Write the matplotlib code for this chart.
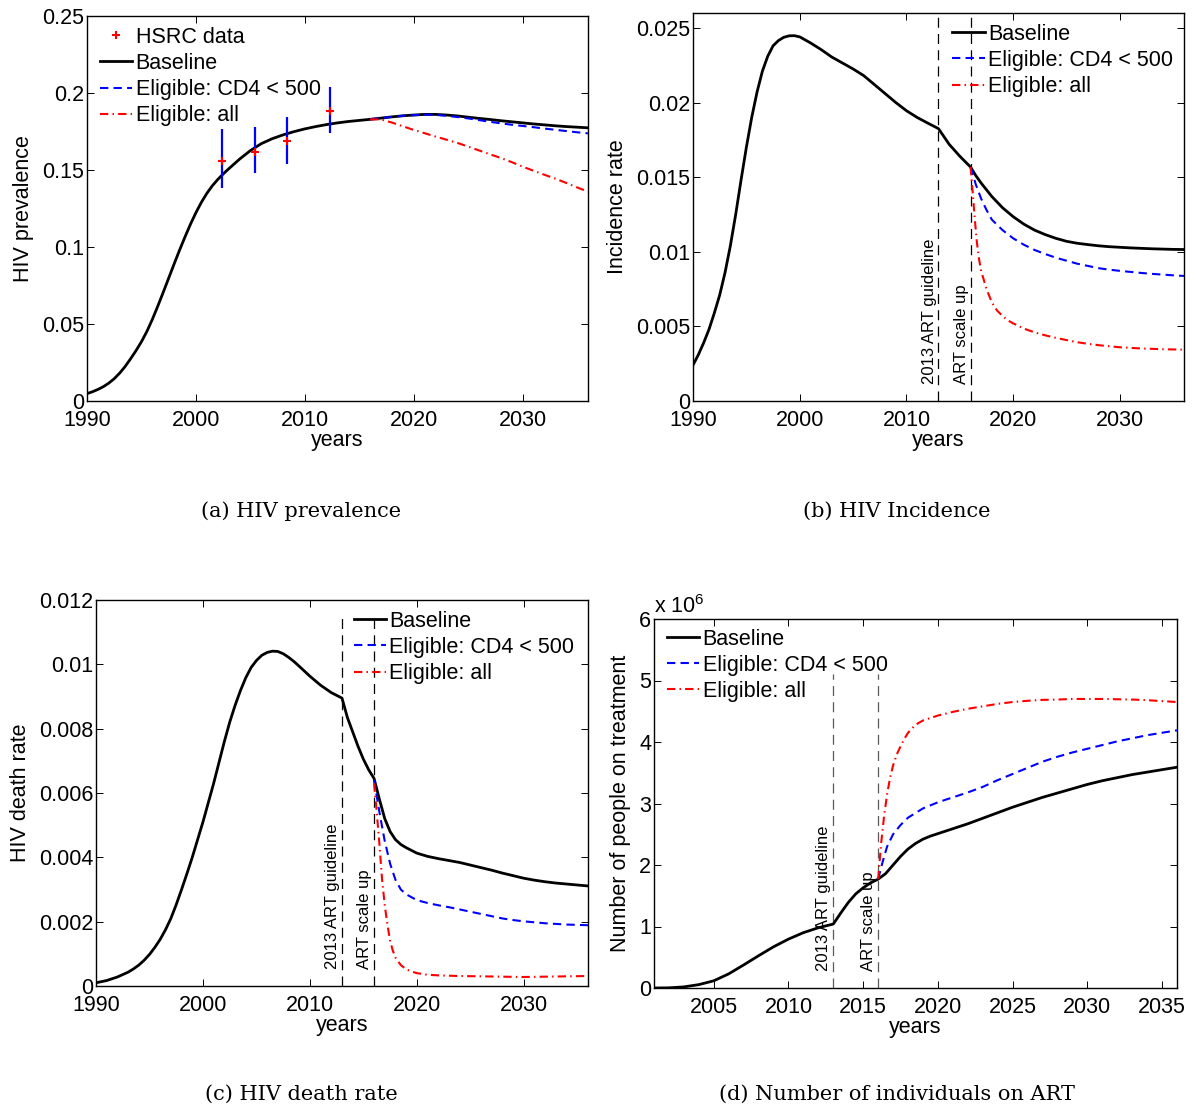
import numpy as np
import matplotlib
matplotlib.use("Agg")
import matplotlib.pyplot as plt
from matplotlib.lines import Line2D

plt.rcParams['font.family'] = ['Liberation Sans', 'DejaVu Sans']
plt.rcParams['font.size'] = 15.5
plt.rcParams['mathtext.fontset'] = 'custom'
plt.rcParams['mathtext.rm'] = 'Liberation Sans'
plt.rcParams['mathtext.it'] = 'Liberation Sans'

# ---------- (a) HIV prevalence ----------
prev_years = [1990, 1990.5, 1991, 1991.5, 1992, 1992.5, 1993, 1993.5, 1994, 1994.5,
              1995, 1995.5, 1996, 1996.5, 1997, 1997.5, 1998, 1998.5, 1999, 1999.5,
              2000, 2000.5, 2001, 2001.5, 2002, 2002.5, 2003] + list(range(2004, 2037))
prev_base = [0.0048, 0.006, 0.0075, 0.0093, 0.0116, 0.0145, 0.0181, 0.0224, 0.0274, 0.0327,
             0.0385, 0.0452, 0.053, 0.0616, 0.0706, 0.0798, 0.089, 0.098, 0.1066, 0.1148,
             0.1223, 0.129, 0.1348, 0.1397, 0.1438, 0.1474, 0.1507, 0.157, 0.1626, 0.1671,
             0.1703, 0.1728, 0.1749, 0.1767, 0.1782, 0.1795, 0.1806, 0.1815, 0.1822, 0.1829,
             0.1837, 0.1845, 0.1852, 0.1857, 0.1861, 0.1861, 0.1857, 0.1851, 0.1843, 0.1835,
             0.1828, 0.182, 0.1813, 0.1806, 0.1799, 0.1793, 0.1787, 0.1782, 0.1778, 0.1774]
scen_years_a = list(range(2016, 2037))
prev_cd4 = [0.1829, 0.1837, 0.1845, 0.1852, 0.1856, 0.1859, 0.1858, 0.1852, 0.1844, 0.1835,
            0.1824, 0.1813, 0.1803, 0.1794, 0.1786, 0.1778, 0.1769, 0.1761, 0.1753, 0.1745,
            0.1738]
prev_all = [0.1829, 0.1828, 0.1808, 0.1784, 0.176, 0.1739, 0.1717, 0.1697, 0.1676, 0.1652,
            0.1627, 0.1602, 0.1578, 0.1551, 0.1522, 0.1495, 0.1469, 0.1444, 0.1416, 0.1387,
            0.1359]
hsrc_years = [2002.4, 2005.4, 2008.4, 2012.3]
hsrc_prev = [0.156, 0.162, 0.169, 0.188]
hsrc_low = [0.138, 0.148, 0.154, 0.174]
hsrc_high = [0.1766, 0.1777, 0.1847, 0.2037]

# ---------- (b) HIV incidence ----------
inc_years = [1990, 1990.5, 1991, 1991.5, 1992, 1992.5, 1993, 1993.5, 1994, 1994.5,
             1995, 1995.5, 1996, 1996.5, 1997, 1997.5, 1998, 1998.5, 1999, 1999.5,
             2000] + list(range(2001, 2017)) + [2016.5] + list(range(2017, 2037))
inc_base = [0.0024, 0.0031, 0.0039, 0.0048, 0.0059, 0.0071, 0.0086, 0.0104, 0.0125, 0.0148,
            0.017, 0.019, 0.0207, 0.0221, 0.0231, 0.0238, 0.02415, 0.02437, 0.02447, 0.02448,
            0.0244, 0.0240, 0.02355, 0.02305, 0.02265, 0.02225, 0.0218, 0.0212, 0.0206, 0.0200,
            0.01945, 0.0190, 0.01862, 0.01825, 0.0172, 0.0164, 0.01568, 0.0151, 0.0146, 0.0137,
            0.01295, 0.01235, 0.01185, 0.01145, 0.01115, 0.0109, 0.0107, 0.01057, 0.01048, 0.0104,
            0.01034, 0.0103, 0.01026, 0.01023, 0.0102, 0.01018, 0.01016, 0.01015]
inc_cd4_years = [2016, 2016.5, 2017, 2017.5] + list(range(2018, 2037))
inc_cd4 = [0.01568, 0.0145, 0.01355, 0.0128, 0.01215, 0.01145, 0.0109, 0.01047, 0.01012, 0.00985,
           0.0096, 0.0094, 0.0092, 0.00905, 0.0089, 0.0088, 0.00872, 0.00865, 0.00858, 0.00852,
           0.00847, 0.00842, 0.00838]
inc_all_years = [2016, 2016.2, 2016.4, 2016.6, 2016.8, 2017, 2017.5, 2018, 2018.5, 2019,
                 2019.5, 2020, 2021, 2022, 2023, 2024, 2025, 2026, 2027, 2028,
                 2030, 2032, 2034, 2036]
inc_all = [0.01568, 0.0140, 0.0122, 0.0106, 0.0095, 0.0087, 0.0075, 0.0066, 0.00605, 0.0057,
           0.0054, 0.0052, 0.00485, 0.0046, 0.0044, 0.00423, 0.00408, 0.00394, 0.00383, 0.00374,
           0.0036, 0.00352, 0.00347, 0.00344]

# ---------- (c) HIV death rate ----------
death_years = [1990, 1991, 1992, 1993, 1993.5, 1994, 1994.5, 1995, 1995.5, 1996,
               1996.5, 1997, 1997.5, 1998, 1998.5, 1999, 1999.5, 2000, 2000.5, 2001,
               2001.5, 2002, 2002.5, 2003, 2003.5, 2004, 2004.5, 2005, 2005.5, 2006,
               2006.5, 2007, 2007.5, 2008, 2008.5, 2009, 2010, 2011, 2012, 2013,
               2013.5, 2014, 2014.5, 2015, 2015.5, 2016, 2016.5, 2017, 2017.5, 2018,
               2018.5, 2019] + list(range(2020, 2037))
death_base = [0.0001, 0.00017, 0.00028, 0.00043, 0.00053, 0.00065, 0.0008, 0.00098, 0.0012, 0.00145,
              0.00175, 0.0021, 0.00253, 0.003, 0.00349, 0.004, 0.00455, 0.0051, 0.0057, 0.0063,
              0.00695, 0.0076, 0.0082, 0.00872, 0.00918, 0.00958, 0.0099, 0.01012, 0.01028, 0.01037,
              0.01041, 0.0104, 0.01033, 0.01022, 0.01009, 0.00994, 0.00963, 0.00935, 0.00912, 0.00895,
              0.00835, 0.0079, 0.00745, 0.00705, 0.00672, 0.00645, 0.0058, 0.0052, 0.0048, 0.00455,
              0.0044, 0.0043, 0.00413, 0.00403, 0.00396, 0.0039, 0.00384, 0.00376, 0.00368, 0.0036,
              0.00351, 0.00343, 0.00335, 0.00329, 0.00324, 0.0032, 0.00317, 0.00314, 0.00311]
death_cd4_years = [2016, 2016.5, 2017, 2017.5, 2018, 2018.5] + list(range(2019, 2037))
death_cd4 = [0.0064, 0.0054, 0.0045, 0.0038, 0.0033, 0.0030, 0.00285, 0.00267, 0.00258, 0.00251,
             0.00245, 0.00238, 0.00231, 0.00224, 0.00217, 0.0021, 0.00205, 0.00201, 0.00198, 0.00195,
             0.00193, 0.00191, 0.0019, 0.00189]
death_all_years = [2016, 2016.25, 2016.5, 2016.75, 2017, 2017.25, 2017.5, 2017.75, 2018, 2018.5,
                   2019, 2019.5, 2020, 2021, 2022, 2024, 2026, 2028, 2030, 2032, 2034, 2036]
death_all = [0.0063, 0.0054, 0.0044, 0.0033, 0.0025, 0.0019, 0.0014, 0.0011, 0.00088, 0.00065,
             0.00052, 0.00045, 0.0004, 0.00035, 0.00033, 0.00031, 0.0003, 0.00029, 0.00028, 0.00029,
             0.0003, 0.00031]

# ---------- (d) number on ART (millions) ----------
art_years = list(range(2001, 2014)) + [2013.5, 2014, 2014.5, 2015, 2015.5, 2016, 2016.5, 2017,
                                       2017.5, 2018, 2018.5, 2019, 2019.5] + list(range(2020, 2037))
art_base = [0, 0.003, 0.018, 0.055, 0.117, 0.23, 0.375, 0.525, 0.67, 0.795,
            0.9, 0.98, 1.04, 1.22, 1.39, 1.53, 1.63, 1.71, 1.77, 1.86,
            2.0, 2.14, 2.26, 2.35, 2.42, 2.47, 2.51, 2.59, 2.67, 2.76,
            2.85, 2.94, 3.02, 3.10, 3.17, 3.24, 3.31, 3.37, 3.42, 3.47,
            3.51, 3.55, 3.59]
art_cd4_years = [2016, 2016.3, 2016.6, 2017, 2017.5] + list(range(2018, 2037))
art_cd4 = [1.77, 2.05, 2.3, 2.5, 2.65, 2.77, 2.92, 3.02, 3.1, 3.18,
           3.27, 3.38, 3.48, 3.58, 3.68, 3.76, 3.83, 3.89, 3.95, 4.01,
           4.06, 4.11, 4.15, 4.19]
art_all_years = [2016, 2016.2, 2016.4, 2016.6, 2016.8, 2017, 2017.25, 2017.5, 2017.75, 2018,
                 2018.5] + list(range(2019, 2037))
art_all = [1.77, 2.35, 2.8, 3.15, 3.42, 3.62, 3.8, 3.93, 4.05, 4.15,
           4.28, 4.35, 4.43, 4.49, 4.54, 4.58, 4.62, 4.65, 4.67, 4.685,
           4.69, 4.70, 4.70, 4.70, 4.695, 4.69, 4.68, 4.665, 4.65]

labels = ['Baseline', 'Eligible: CD4 < 500', 'Eligible: all']
policy_years = [2013, 2016]
policy_text = ['2013 ART guideline', 'ART scale up']

W, H = 1196, 1106
fig = plt.figure(figsize=(W / 100, H / 100), dpi=100)


def px_axes(l, t, r, b):
    return fig.add_axes([l / W, 1 - b / H, (r - l) / W, (b - t) / H])


def style(ax, xlim, ylim, yticks, xticks, ylabel):
    ax.set_xlim(*xlim)
    ax.set_ylim(*ylim)
    ax.set_yticks(yticks)
    ax.set_yticklabels(['%g' % v for v in yticks])
    ax.set_xticks(xticks)
    ax.tick_params(direction='in', length=5, width=0.7, top=True, right=True)
    ax.tick_params(axis='x', pad=6.5)
    ax.tick_params(axis='y', pad=2)
    for s in ax.spines.values():
        s.set_linewidth(1.0)
    ax.set_xlabel('years', labelpad=-1)
    ax.set_ylabel(ylabel, labelpad=6)


def draw_lines(ax, x0, y0, x1, y1, x2, y2):
    ax.plot(x0, y0, color='k', lw=2.0, zorder=3)
    ax.plot(x1, y1, color='b', lw=1.5, dashes=(4, 2.5), zorder=4)
    ax.plot(x2, y2, color='r', lw=1.5, dashes=(4, 2, 0.7, 2), zorder=5)


def policy_marks(ax, ytop, color):
    for yr, txt in zip(policy_years, policy_text):
        ax.plot([yr, yr], [0, ytop], color=color, lw=0.9, dashes=(8, 5), zorder=2)
        ax.text(yr - 0.15, 0.045, txt, rotation=90, ha='right', va='bottom', fontsize=12,
                transform=ax.get_xaxis_transform())


def scen_legend(ax, x, y, extra=None):
    hs = [Line2D([], [], color='k', lw=2.0),
          Line2D([], [], color='b', lw=1.5, dashes=(4, 2.5)),
          Line2D([], [], color='r', lw=1.5, dashes=(4, 2, 0.7, 2))]
    labs = list(labels)
    if extra is not None:
        hs = [extra[0]] + hs
        labs = [extra[1]] + labs
    ax.legend(hs, labs, loc='upper left', bbox_to_anchor=(x, y), frameon=False,
              borderpad=0, borderaxespad=0, handlelength=1.5, handletextpad=0.15,
              labelspacing=0.24, fontsize=15.5)


decade = [1990, 2000, 2010, 2020, 2030]

# (a)
ax = px_axes(87, 16, 588, 401)
draw_lines(ax, prev_years, prev_base, scen_years_a, prev_cd4, scen_years_a, prev_all)
err = [np.array(hsrc_prev) - np.array(hsrc_low), np.array(hsrc_high) - np.array(hsrc_prev)]
ax.errorbar(hsrc_years, hsrc_prev, yerr=err, fmt='none', ecolor='b', elinewidth=1.6,
            capsize=0, zorder=6)
ax.plot(hsrc_years, hsrc_prev, 'r+', ms=6, mew=1.5, zorder=7)
style(ax, (1990, 2036), (0, 0.25), [0, 0.05, 0.1, 0.15, 0.2, 0.25], decade, 'HIV prevalence')
hsrc_handle = Line2D([], [], color='r', ls='none', marker='+', ms=6, mew=1.5)
scen_legend(ax, 0.026, 0.972, extra=(hsrc_handle, 'HSRC data'))

# (b)
ax = px_axes(693, 13, 1184, 401)
draw_lines(ax, inc_years, inc_base, inc_cd4_years, inc_cd4, inc_all_years, inc_all)
policy_marks(ax, 0.026, 'k')
style(ax, (1990, 2036), (0, 0.026), [0, 0.005, 0.01, 0.015, 0.02, 0.025], decade, 'Incidence rate')
scen_legend(ax, 0.528, 0.972)

# (c)
ax = px_axes(96, 600, 588, 986)
draw_lines(ax, death_years, death_base, death_cd4_years, death_cd4, death_all_years, death_all)
policy_marks(ax, 0.0115, 'k')
style(ax, (1990, 2036), (0, 0.012), [0, 0.002, 0.004, 0.006, 0.008, 0.01, 0.012], decade,
      'HIV death rate')
scen_legend(ax, 0.524, 0.972)

# (d)
ax = px_axes(654, 619, 1177, 988)
draw_lines(ax, art_years, art_base, art_cd4_years, art_cd4, art_all_years, art_all)
policy_marks(ax, 5.1, '0.35')
style(ax, (2001, 2036), (0, 6), [0, 1, 2, 3, 4, 5, 6], list(range(2005, 2040, 5)),
      'Number of people on treatment')
ax.text(0.0, 1.003, r'x 10$^{6}$', transform=ax.transAxes, ha='left', va='bottom', fontsize=15.5)
scen_legend(ax, 0.025, 0.974)

captions = ['(a) HIV prevalence', '(b) HIV Incidence', '(c) HIV death rate',
            '(d) Number of individuals on ART']
cap_pos = [(301, 511), (897, 511), (301, 1094), (897, 1094)]
for txt, (cx, cy) in zip(captions, cap_pos):
    fig.text(cx / W, 1 - cy / H, txt, ha='center', va='center', family='DejaVu Serif', fontsize=15)

fig.savefig('out.png', dpi=100)
